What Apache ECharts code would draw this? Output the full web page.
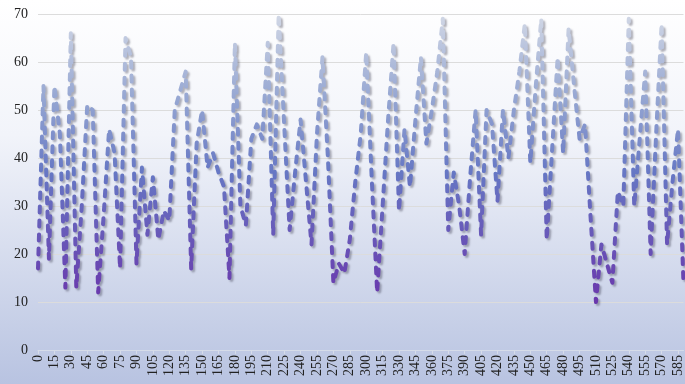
<!DOCTYPE html>
<html>
<head>
<meta charset="utf-8">
<script src="https://cdn.jsdelivr.net/npm/echarts@6/dist/echarts.min.js"></script>
<style>
  html, body { margin: 0; padding: 0; }
  #main { width: 685px; height: 384px; }
</style>
</head>
<body>
<div id="main"></div>
<script>
// x categories, step 5
var xCats = [];
for (var k = 0; k <= 590; k += 5) { xCats.push(String(k)); }

// values
var yValues = [
  17, 55, 19, 55, 45, 13, 66, 13, 30, 51,
  50, 12, 28, 46, 41, 17, 65, 61, 18, 38,
  24, 36, 23, 29, 27, 50, 54, 58, 17, 43,
  50, 38, 41, 37, 34, 15, 64, 30, 26, 44,
  47, 44, 64, 24, 70, 47, 25, 37, 48, 35,
  22, 45, 61, 40, 14, 18, 16, 23, 35, 45,
  62, 36, 12, 30, 48, 64, 29, 46, 34, 48,
  61, 43, 50, 58, 69, 25, 37, 30, 20, 36,
  50, 24, 50, 47, 31, 50, 40, 50, 58, 68,
  39, 55, 69, 23, 42, 61, 41, 67, 55, 44,
  47, 28, 10, 22, 18, 14, 33, 30, 69, 30,
  44, 58, 20, 45, 68, 22, 35, 46, 14
];

var yTicks = [0, 10, 20, 30, 40, 50, 60, 70];

(function () {
    var chart = echarts.init(document.getElementById('main'));
    var option = {
        animation: false,
        backgroundColor: new echarts.graphic.LinearGradient(0, 0, 0, 1, [
            {offset: 0, color: '#ffffff'},
            {offset: 0.35, color: '#f2f4fa'},
            {offset: 1, color: '#b8c3e1'}
        ]),
        grid: {left: 38, right: 1, top: 14, bottom: 34},
        xAxis: {
            type: 'category',
            data: xCats,
            boundaryGap: false,
            axisLine: {lineStyle: {color: '#d6dce9'}},
            axisTick: {interval: 2, length: 4, lineStyle: {color: '#d6dce9'}},
            axisLabel: {
                interval: 2,
                rotate: 90,
                margin: 5,
                fontFamily: 'Liberation Serif',
                fontSize: 14,
                color: '#222'
            },
            splitLine: {show: false}
        },
        yAxis: {
            type: 'value',
            min: yTicks[0],
            max: yTicks[yTicks.length - 1],
            interval: 10,
            axisLine: {show: false},
            axisTick: {show: false},
            axisLabel: {
                margin: 10,
                fontFamily: 'Liberation Serif',
                fontSize: 14,
                color: '#222'
            },
            splitLine: {lineStyle: {color: '#dcdcdc', width: 1}}
        },
        series: [{
            type: 'line',
            data: yValues,
            symbol: 'none',
            smooth: false,
            lineStyle: {
                width: 4,
                type: [6, 8],
                cap: 'round',
                join: 'round',
                color: new echarts.graphic.LinearGradient(0, 0, 0, 1, [
                    {offset: 0, color: '#d3d9e6'},
                    {offset: 0.3, color: '#95a6d2'},
                    {offset: 0.55, color: '#6677c4'},
                    {offset: 1, color: '#6a36ac'}
                ]),
                shadowColor: 'rgba(60,60,80,0.4)',
                shadowBlur: 2,
                shadowOffsetX: 2,
                shadowOffsetY: 2
            }
        }]
    };
    chart.setOption(option);
})();
</script>
</body>
</html>
